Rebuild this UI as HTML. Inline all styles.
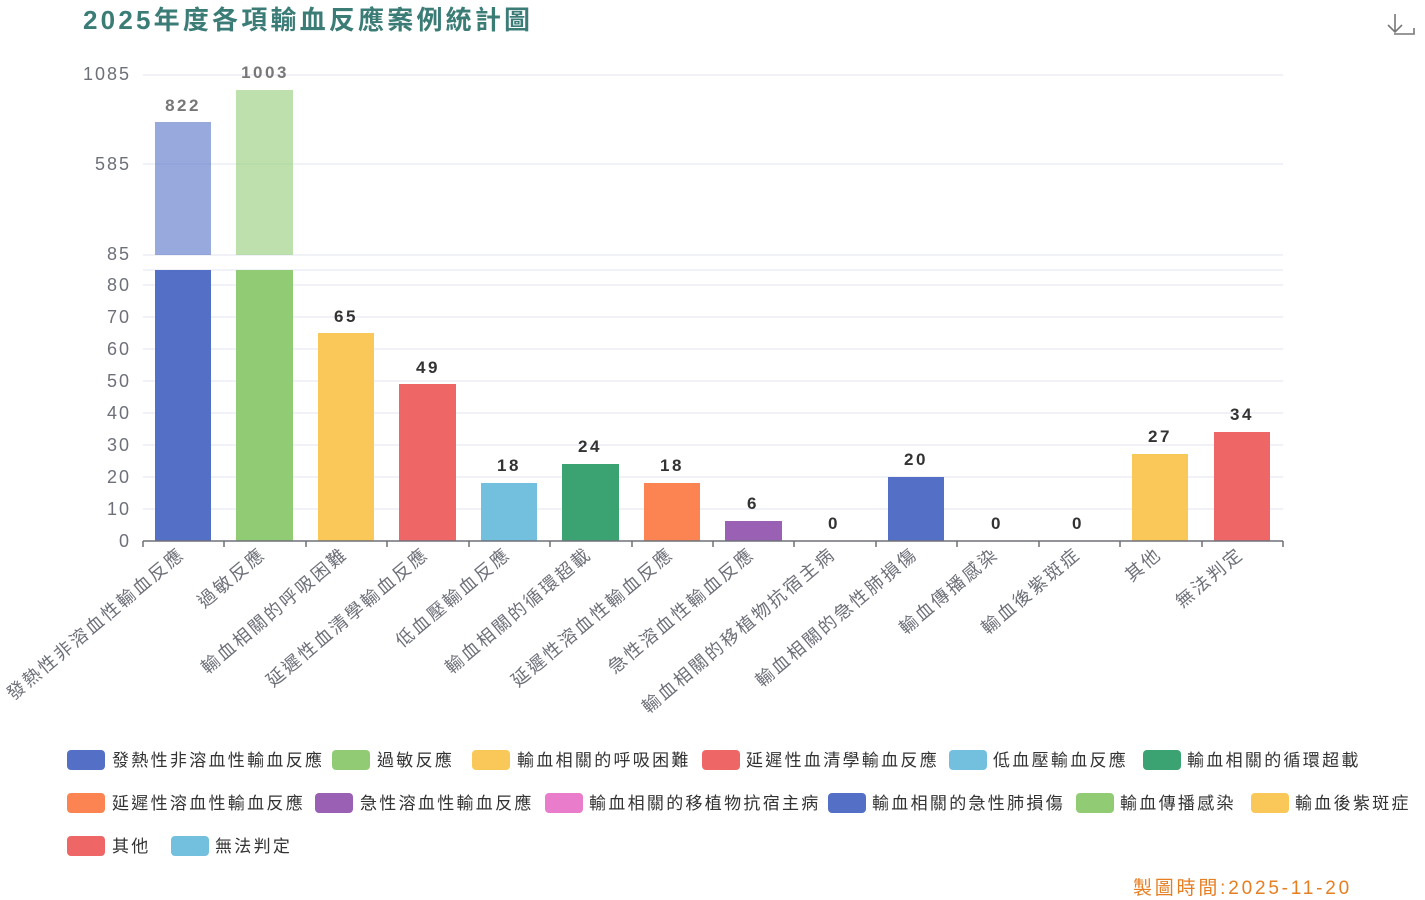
<!DOCTYPE html>
<html><head><meta charset="utf-8"><style>
body{margin:0;background:#fff;}
svg{display:block;font-family:"Liberation Sans","Noto Sans CJK TC",sans-serif;}
</style></head><body>
<svg width="1425" height="900" viewBox="0 0 1425 900">
<text x="83" y="29" font-size="26" font-weight="bold" fill="#3b7c77" letter-spacing="3.2">2025年度各項輸血反應案例統計圖</text>
<g stroke="#777" stroke-width="1.6" fill="none"><path d="M1395 14v18M1388 25l7 7 7-7M1394 34h20v-6" /></g>
<!-- grid -->
<g stroke="#e0e6f1" stroke-width="1">
<line x1="143" x2="1283" y1="75" y2="75"/><line x1="143" x2="1283" y1="164" y2="164"/><line x1="143" x2="1283" y1="255" y2="255"/>
<line x1="143" x2="1283" y1="270" y2="270"/>
<line x1="143" x2="1283" y1="285" y2="285"/><line x1="143" x2="1283" y1="317" y2="317"/><line x1="143" x2="1283" y1="349" y2="349"/><line x1="143" x2="1283" y1="381" y2="381"/><line x1="143" x2="1283" y1="413" y2="413"/><line x1="143" x2="1283" y1="445" y2="445"/><line x1="143" x2="1283" y1="477" y2="477"/><line x1="143" x2="1283" y1="509" y2="509"/>
</g>
<g font-size="18" fill="#6e7079" text-anchor="end" letter-spacing="2">
<text x="131" y="80">1085</text><text x="131" y="170">585</text><text x="131" y="260">85</text>
<text x="131" y="291">80</text><text x="131" y="323">70</text><text x="131" y="355">60</text><text x="131" y="387">50</text><text x="131" y="419">40</text><text x="131" y="451">30</text><text x="131" y="483">20</text><text x="131" y="515">10</text><text x="131" y="547">0</text>
</g>
<rect x="155" y="122" width="56" height="133" fill="#5470c6" opacity="0.6"/>
<rect x="236" y="90" width="57" height="165" fill="#91cc75" opacity="0.6"/>
<rect x="155" y="270" width="56" height="271" fill="#5470c6"/>
<rect x="236" y="270" width="57" height="271" fill="#91cc75"/>
<rect x="318" y="333" width="56" height="208" fill="#fac858"/>
<rect x="399" y="384" width="57" height="157" fill="#ee6666"/>
<rect x="481" y="483" width="56" height="58" fill="#73c0de"/>
<rect x="562" y="464" width="57" height="77" fill="#3ba272"/>
<rect x="644" y="483" width="56" height="58" fill="#fc8452"/>
<rect x="725" y="521" width="57" height="20" fill="#9a60b4"/>
<rect x="888" y="477" width="56" height="64" fill="#5470c6"/>
<rect x="1132" y="454" width="56" height="87" fill="#fac858"/>
<rect x="1214" y="432" width="56" height="109" fill="#ee6666"/>
<g font-size="17" font-weight="bold" text-anchor="middle" letter-spacing="2.5">
<text x="183" y="111" fill="#777">822</text><text x="265" y="78" fill="#777">1003</text>
<g fill="#333">
<text x="346" y="322">65</text><text x="428" y="373">49</text><text x="509" y="471">18</text><text x="590" y="452">24</text><text x="672" y="471">18</text><text x="753" y="509">6</text><text x="834" y="529">0</text><text x="916" y="465">20</text><text x="997" y="529">0</text><text x="1078" y="529">0</text><text x="1160" y="442">27</text><text x="1242" y="420">34</text>
</g></g>
<line x1="143" x2="1283" y1="541" y2="541" stroke="#6e7079" stroke-width="1.5"/>
<g stroke="#6e7079" stroke-width="1.5">
<line x1="143" x2="143" y1="541" y2="547"/><line x1="224" x2="224" y1="541" y2="547"/><line x1="306" x2="306" y1="541" y2="547"/><line x1="387" x2="387" y1="541" y2="547"/><line x1="469" x2="469" y1="541" y2="547"/><line x1="550" x2="550" y1="541" y2="547"/><line x1="632" x2="632" y1="541" y2="547"/><line x1="713" x2="713" y1="541" y2="547"/><line x1="794" x2="794" y1="541" y2="547"/><line x1="876" x2="876" y1="541" y2="547"/><line x1="957" x2="957" y1="541" y2="547"/><line x1="1039" x2="1039" y1="541" y2="547"/><line x1="1120" x2="1120" y1="541" y2="547"/><line x1="1202" x2="1202" y1="541" y2="547"/><line x1="1283" x2="1283" y1="541" y2="547"/>
</g>
<g font-size="18" fill="#6e7079" text-anchor="end" letter-spacing="2.5">
<text transform="translate(186,556) rotate(-40)">發熱性非溶血性輸血反應</text>
<text transform="translate(267,556) rotate(-40)">過敏反應</text>
<text transform="translate(349,556) rotate(-40)">輸血相關的呼吸困難</text>
<text transform="translate(430,556) rotate(-40)">延遲性血清學輸血反應</text>
<text transform="translate(512,556) rotate(-40)">低血壓輸血反應</text>
<text transform="translate(593,556) rotate(-40)">輸血相關的循環超載</text>
<text transform="translate(675,556) rotate(-40)">延遲性溶血性輸血反應</text>
<text transform="translate(756,556) rotate(-40)">急性溶血性輸血反應</text>
<text transform="translate(837,556) rotate(-40)">輸血相關的移植物抗宿主病</text>
<text transform="translate(919,556) rotate(-40)">輸血相關的急性肺損傷</text>
<text transform="translate(1000,556) rotate(-40)">輸血傳播感染</text>
<text transform="translate(1082,556) rotate(-40)">輸血後紫斑症</text>
<text transform="translate(1163,556) rotate(-40)">其他</text>
<text transform="translate(1245,556) rotate(-40)">無法判定</text>
</g>
<g font-size="17" fill="#333" letter-spacing="2.3">
<rect x="67" y="750" width="38" height="20" rx="4" fill="#5470c6"/><text x="112" y="766">發熱性非溶血性輸血反應</text>
<rect x="332" y="750" width="38" height="20" rx="4" fill="#91cc75"/><text x="377" y="766">過敏反應</text>
<rect x="472" y="750" width="38" height="20" rx="4" fill="#fac858"/><text x="517" y="766">輸血相關的呼吸困難</text>
<rect x="702" y="750" width="38" height="20" rx="4" fill="#ee6666"/><text x="746" y="766">延遲性血清學輸血反應</text>
<rect x="949" y="750" width="38" height="20" rx="4" fill="#73c0de"/><text x="993" y="766">低血壓輸血反應</text>
<rect x="1143" y="750" width="38" height="20" rx="4" fill="#3ba272"/><text x="1187" y="766">輸血相關的循環超載</text>
<rect x="67" y="793" width="38" height="20" rx="4" fill="#fc8452"/><text x="112" y="809">延遲性溶血性輸血反應</text>
<rect x="315" y="793" width="38" height="20" rx="4" fill="#9a60b4"/><text x="360" y="809">急性溶血性輸血反應</text>
<rect x="545" y="793" width="38" height="20" rx="4" fill="#ea7ccc"/><text x="589" y="809">輸血相關的移植物抗宿主病</text>
<rect x="828" y="793" width="38" height="20" rx="4" fill="#5470c6"/><text x="872" y="809">輸血相關的急性肺損傷</text>
<rect x="1076" y="793" width="38" height="20" rx="4" fill="#91cc75"/><text x="1120" y="809">輸血傳播感染</text>
<rect x="1251" y="793" width="38" height="20" rx="4" fill="#fac858"/><text x="1295" y="809">輸血後紫斑症</text>
<rect x="67" y="836" width="38" height="20" rx="4" fill="#ee6666"/><text x="112" y="852">其他</text>
<rect x="171" y="836" width="38" height="20" rx="4" fill="#73c0de"/><text x="215" y="852">無法判定</text>
</g>
<text x="1352" y="894" font-size="19" fill="#e67e22" text-anchor="end" letter-spacing="2.8">製圖時間:2025-11-20</text>
</svg>
</body></html>
